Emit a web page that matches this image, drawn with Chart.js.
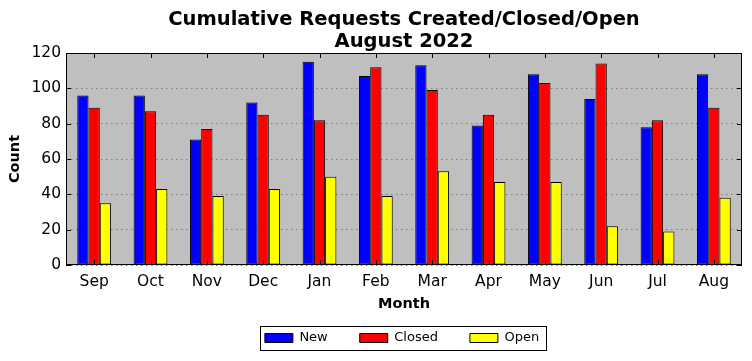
<!DOCTYPE html>
<html>
<head>
<meta charset="utf-8">
<script src="https://cdn.jsdelivr.net/npm/chart.js@4.4.1/dist/chart.umd.min.js"></script>
<style>
  html, body { margin: 0; padding: 0; background: #ffffff; }
</style>
</head>
<body>
<canvas id="requestsChart" width="752" height="361"></canvas>
<script>
// chart values
const months = ['Sep', 'Oct', 'Nov', 'Dec', 'Jan', 'Feb', 'Mar', 'Apr', 'May', 'Jun', 'Jul', 'Aug'];
const newCounts = [96, 96, 71, 92, 115, 107, 113, 79, 108, 94, 78, 108];
const closedCounts = [89, 87, 77, 85, 82, 112, 99, 85, 103, 114, 82, 89];
const openCounts = [35, 43, 39, 43, 50, 39, 53, 47, 47, 22, 19, 38];
const yTicks = [0, 20, 40, 60, 80, 100, 120];

const fontFamily = "'DejaVu Sans', sans-serif";

// silver plot background, black frame and inward tick marks (matplotlib classic look)
const axesFrame = {
    id: 'axesFrame',
    beforeDraw(chart) {
        const { ctx, chartArea: a } = chart;
        ctx.save();
        ctx.fillStyle = '#bfbfbf';
        ctx.fillRect(a.left, a.top, a.right - a.left, a.bottom - a.top);
        ctx.restore();
    },
    afterDatasetsDraw(chart) {
        const { ctx, chartArea: a } = chart;
        const xs = chart.scales.x;
        const ys = chart.scales.y;
        ctx.save();
        ctx.strokeStyle = '#000';
        ctx.lineWidth = 1;
        ctx.beginPath();
        ys.ticks.forEach(t => {
            const y = Math.round(ys.getPixelForValue(t.value)) + 0.5;
            ctx.moveTo(a.left, y); ctx.lineTo(a.left + 5, y);
            ctx.moveTo(a.right, y); ctx.lineTo(a.right - 5, y);
        });
        xs.ticks.forEach((t, i) => {
            const x = Math.round(xs.getPixelForTick(i)) + 0.5;
            ctx.moveTo(x, a.top); ctx.lineTo(x, a.top + 5);
            ctx.moveTo(x, a.bottom); ctx.lineTo(x, a.bottom - 5);
        });
        ctx.stroke();
        ctx.strokeRect(Math.round(a.left) + 0.5, Math.round(a.top) + 0.5,
            Math.round(a.right - a.left) - 1, Math.round(a.bottom - a.top) - 1);
        ctx.restore();
    },
    afterLayout(chart) {
        // centre title and legend over the plot, not the whole canvas
        const a = chart.chartArea;
        const mid = (a.left + a.right) / 2;
        const tb = chart.titleBlock;
        const ts = mid - (tb.left + tb.right) / 2;
        tb.left += ts;
        tb.right += ts;
        const lg = chart.legend;
        const ls = mid - (lg.left + lg.right) / 2 - 2;
        lg.left += ls;
        lg.right += ls;
    },
    afterDraw(chart) {
        const boxes = chart.legend.legendHitBoxes;
        if (!boxes || !boxes.length) return;
        const first = boxes[0];
        const last = boxes[boxes.length - 1];
        const cy = first.top + first.height / 2;
        const ctx = chart.ctx;
        ctx.save();
        ctx.strokeStyle = '#000';
        ctx.lineWidth = 1;
        ctx.strokeRect(Math.round(first.left - 5) + 0.5, Math.round(cy - 12) + 0.5,
            Math.round(last.left + last.width - first.left + 12), 24);
        ctx.restore();
    }
};

const ctx = document.getElementById('requestsChart').getContext('2d');
const requestsChart = new Chart(ctx, {
    type: 'bar',
    data: {
        labels: months,
        datasets: [
            { label: 'New', data: newCounts, backgroundColor: '#0000ff', borderColor: '#000', borderWidth: 1 },
            { label: 'Closed', data: closedCounts, backgroundColor: '#ff0000', borderColor: '#000', borderWidth: 1 },
            { label: 'Open', data: openCounts, backgroundColor: '#ffff00', borderColor: '#000', borderWidth: 1 }
        ]
    },
    options: {
        responsive: false,
        animation: false,
        devicePixelRatio: 1,
        datasets: {
            bar: { categoryPercentage: 0.6, barPercentage: 1.0, borderSkipped: false }
        },
        layout: { padding: { left: 0, right: 10, top: 0, bottom: 6.5 } },
        plugins: {
            title: {
                display: true,
                text: ['Cumulative Requests Created/Closed/Open', 'August 2022'],
                color: '#000',
                font: { family: fontFamily, size: 19.5, weight: 'bold', lineHeight: '22px' },
                padding: { top: 9, bottom: 0 }
            },
            legend: {
                position: 'bottom',
                labels: {
                    color: '#000',
                    boxWidth: 28,
                    boxHeight: 9,
                    padding: 32,
                    font: { family: fontFamily, size: 13 }
                }
            },
            tooltip: { enabled: false }
        },
        scales: {
            x: {
                grid: { display: false, drawTicks: false },
                border: { display: false },
                ticks: { color: '#000', padding: 8, font: { family: fontFamily, size: 15.5 } },
                title: {
                    display: true,
                    text: 'Month',
                    color: '#000',
                    font: { family: fontFamily, size: 14.5, weight: 'bold' },
                    padding: { top: 0, bottom: -13 }
                },
                afterFit(scale) { scale.height = 34.5; }
            },
            y: {
                min: 0,
                max: 120,
                afterBuildTicks(scale) { scale.ticks = yTicks.map(v => ({ value: v })); },
                grid: { color: '#7a7a7a', lineWidth: 1, drawTicks: false },
                border: { display: false, dash: [1.5, 3.5] },
                ticks: { color: '#000', padding: 5, font: { family: fontFamily, size: 15.5 } },
                title: {
                    display: true,
                    text: 'Count',
                    color: '#000',
                    font: { family: fontFamily, size: 14.5, weight: 'bold' },
                    padding: { top: 7, bottom: 0 }
                },
                afterFit(scale) { scale.width = 66; }
            }
        }
    },
    plugins: [axesFrame]
});
</script>
</body>
</html>
